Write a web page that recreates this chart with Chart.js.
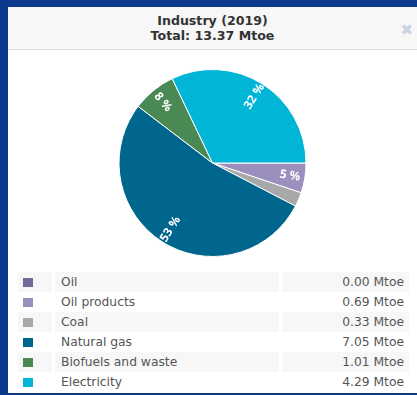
<!DOCTYPE html>
<html>
<head>
<meta charset="utf-8">
<script src="https://cdn.jsdelivr.net/npm/chart.js@4.4.0/dist/chart.umd.min.js"></script>
<style>
  body { margin: 0; background: #0b3a8d; width: 417px; height: 395px; overflow: hidden; font-family: "DejaVu Sans", Verdana, sans-serif; }
  #panel { position: absolute; left: 8px; top: 7px; width: 409px; height: 386px; background: #fff; }
  #head { height: 43px; background: #f7f7f7; border-bottom: 1px solid #dcdcdc; text-align: center; color: #333; font-weight: bold; font-size: 12.6px; line-height: 15px; box-sizing: border-box; }
  #head div:first-child { padding-top: 6px; }
  #close { position: absolute; right: 4px; top: 14px; color: #c8d3e4; font-size: 15px; font-weight: bold; }
  #pieBox { position: absolute; left: 0; top: 44px; width: 409px; height: 220px; }
  #legend { position: absolute; left: 7px; top: 265px; border-collapse: separate; border-spacing: 3px 0; font-size: 12.3px; color: #555; }
  #legend td { height: 20px; padding: 0; }
  #legend tr.alt td { background: #f7f7f7; }
  #legend td.sw { width: 34px; }
  #legend td.sw span { display: inline-block; width: 10px; height: 9px; margin-left: 5px; vertical-align: middle; }
  #legend td.name { width: 218px; padding-left: 6px; }
  #legend td.val { width: 122px; text-align: right; padding-right: 5px; }
</style>
</head>
<body>
<div id="panel">
  <div id="head">
    <div>Industry (2019)</div>
    <div id="total"></div>
  </div>
  <div id="close">✖</div>
  <div id="pieBox"><canvas id="pie" width="409" height="220"></canvas></div>
  <table id="legend"></table>
</div>
<script>
const sectors = ['Oil', 'Oil products', 'Coal', 'Natural gas', 'Biofuels and waste', 'Electricity'];
const mtoe = [0.00, 0.69, 0.33, 7.05, 1.01, 4.29];
const colours = ['#736b97', '#9a8fbd', '#a7a8aa', '#00668e', '#4b8954', '#00b5d6'];
const total = 13.37;

document.getElementById('total').textContent = 'Total: ' + total.toFixed(2) + ' Mtoe';

// legend table under the pie
const tbl = document.getElementById('legend');
sectors.forEach((name, i) => {
  const tr = document.createElement('tr');
  if (i % 2 === 0) tr.className = 'alt';
  tr.innerHTML = '<td class="sw"><span style="background:' + colours[i] + '"></span></td>' +
    '<td class="name">' + name + '</td>' +
    '<td class="val">' + mtoe[i].toFixed(2) + ' Mtoe</td>';
  tbl.appendChild(tr);
});

// percentage labels drawn along the radius of each slice
const sliceLabels = {
  id: 'sliceLabels',
  afterDatasetsDraw(chart) {
    const ctx = chart.ctx;
    const meta = chart.getDatasetMeta(0);
    const sum = mtoe.reduce((a, b) => a + b, 0);
    meta.data.forEach((arc, i) => {
      const pct = mtoe[i] / sum * 100;
      if (pct < 4) return;
      const p = arc.getProps(['x', 'y', 'startAngle', 'endAngle', 'outerRadius'], true);
      const mid = (p.startAngle + p.endAngle) / 2;
      const r = p.outerRadius * 0.84;
      let rot = mid;
      const deg = ((mid * 180 / Math.PI) % 360 + 360) % 360;
      if (deg > 90 && deg < 270) rot += Math.PI;
      ctx.save();
      ctx.translate(p.x + Math.cos(mid) * r, p.y + Math.sin(mid) * r);
      ctx.rotate(rot);
      ctx.fillStyle = '#fff';
      ctx.font = 'bold 12px "Open Sans", sans-serif';
      ctx.textAlign = 'center';
      ctx.textBaseline = 'middle';
      ctx.fillText(Math.round(pct) + ' %', 0, 0);
      ctx.restore();
    });
  }
};

new Chart(document.getElementById('pie').getContext('2d'), {
  type: 'pie',
  data: {
    labels: sectors,
    datasets: [{
      data: mtoe,
      backgroundColor: colours,
      borderColor: '#fff',
      borderWidth: 1
    }]
  },
  options: {
    responsive: false,
    animation: false,
    rotation: 90,
    layout: { padding: { top: 18, bottom: 14 } },
    plugins: {
      legend: { display: false },
      tooltip: { enabled: false }
    }
  },
  plugins: [sliceLabels]
});
</script>
</body>
</html>
